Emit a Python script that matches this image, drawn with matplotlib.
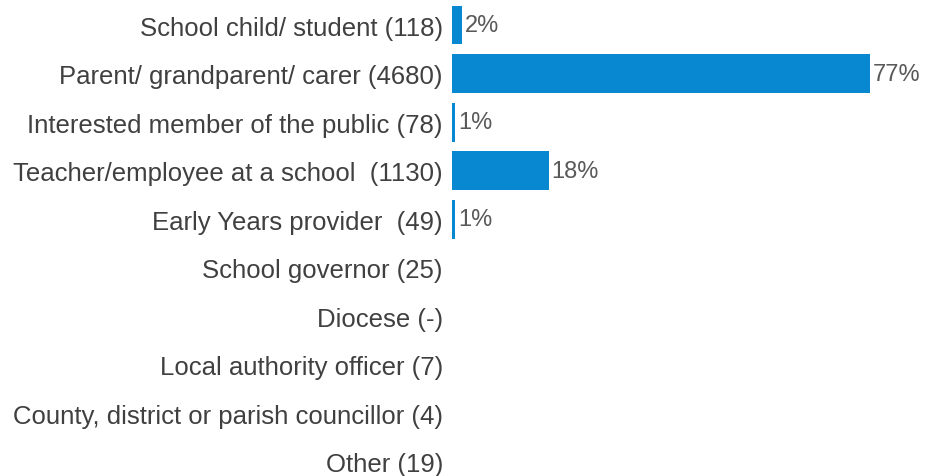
import matplotlib.pyplot as plt

plt.rcParams['font.family'] = ['Liberation Sans', 'DejaVu Sans']

# Data
categories = [
    'School child/ student (118)',
    'Parent/ grandparent/ carer (4680)',
    'Interested member of the public (78)',
    'Teacher/employee at a school  (1130)',
    'Early Years provider  (49)',
    'School governor (25)',
    'Diocese (-)',
    'Local authority officer (7)',
    'County, district or parish councillor (4)',
    'Other (19)',
]
values = [1.9, 76.9, 0.6, 17.8, 0.6, 0, 0, 0, 0, 0]
value_labels = ['2%', '77%', '1%', '18%', '1%', '', '', '', '', '']

BAR_COLOR = '#0788d1'

fig = plt.figure(figsize=(9.25, 4.77), dpi=100)
ax = fig.add_axes([0.4886, 0, 0.5114, 1])

y = list(range(len(categories)))
ax.barh(y, values, height=0.8, color=BAR_COLOR)

for yi, v, lab in zip(y, values, value_labels):
    if lab:
        ax.text(v + 0.5, yi, lab, va='center', ha='left', fontsize=17, color='#595959')

ax.set_yticks(y)
ax.set_yticklabels(categories, fontsize=18.5, color='#404040')
ax.tick_params(axis='y', length=0, pad=6.5)
ax.set_xticks([])
ax.set_xlim(0, 87)
ax.set_ylim(9.29, -0.536)
for s in ax.spines.values():
    s.set_visible(False)

fig.savefig('out.png', dpi=100)
